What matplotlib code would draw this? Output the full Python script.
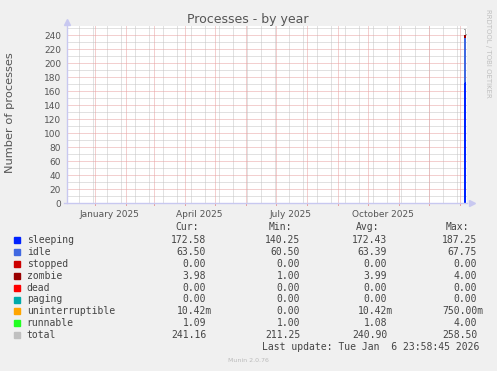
import matplotlib
matplotlib.use('Agg')

import datetime as dt
import numpy as np
import pandas as pd
import matplotlib.pyplot as plt
from matplotlib.transforms import blended_transform_factory

# series shown in the legend
names = ['sleeping', 'idle', 'stopped', 'zombie', 'dead', 'paging',
         'uninterruptible', 'runnable', 'total']
colors = ['#0022ff', '#4169e1', '#cc0000', '#990000', '#ff0000', '#00aaaa',
          '#ffa500', '#22ff22', '#c0c0c0']

# legend statistics
cur_vals = [172.58, 63.50, 0.00, 3.98, 0.00, 0.00, 0.01042, 1.09, 241.16]
min_vals = [140.25, 60.50, 0.00, 1.00, 0.00, 0.00, 0.00, 1.00, 211.25]
avg_vals = [172.43, 63.39, 0.00, 3.99, 0.00, 0.00, 0.01042, 1.08, 240.90]
max_vals = [187.25, 67.75, 0.00, 4.00, 0.00, 0.00, 0.75, 4.00, 258.50]

# daily averages (only the last couple of days have data)
days = ['2026-01-05', '2026-01-06']
sleeping = [172.4, 172.6]
idle = [63.4, 63.5]
stopped = [0.0, 0.0]
zombie = [3.99, 3.98]
dead = [0.0, 0.0]
paging = [0.0, 0.0]
uninterruptible = [0.01, 0.01]
runnable = [1.08, 1.09]
total = [249.0, 241.2]

month_labels = ['January 2025', 'April 2025', 'July 2025', 'October 2025']
month_label_dates = ['2025-01-16', '2025-04-16', '2025-07-16', '2025-10-16']
yticks = list(range(0, 241, 20))

x_start = dt.datetime(2024, 12, 4)
x_end = x_start + dt.timedelta(days=400)

W, H = 497, 371
fig = plt.figure(figsize=(W / 100, H / 100), dpi=100)
fig.patch.set_facecolor('#f0f0f0')

ax = fig.add_axes([66.7 / W, 1 - 203.3 / H, 400 / W, (203.3 - 26) / H])
ax.set_facecolor('white')
for s in ax.spines.values():
    s.set_visible(False)
ax.set_xlim(x_start, x_end)
ax.set_ylim(0, 253.3)

# grid (dotted)
dot = (0, (1, 1))
gray = '#c4c4c4'
red = '#e8a0a0'
gkw = dict(lw=0.72, ls=dot, zorder=1)
for y in range(10, 251, 20):
    ax.axhline(y, color=gray, **gkw)
for d in pd.date_range('2024-12-16', x_end, freq='14D'):
    ax.axvline(d, color=gray, **gkw)
for y in range(20, 251, 20):
    ax.axhline(y, color=red, **gkw)
tr = blended_transform_factory(ax.transData, ax.transAxes)
for d in pd.date_range('2024-12-01', x_end, freq='MS'):
    if d >= pd.Timestamp(x_start):
        ax.axvline(d, color=red, **gkw)
        ax.plot([d, d], [-0.012, 0], transform=tr, color=red, lw=0.72,
                clip_on=False, zorder=1)

# stacked areas
t = pd.to_datetime(days)
edges = list(t) + [t[-1] + pd.Timedelta(days=1)]
stack = [sleeping, idle, stopped, zombie, dead, paging, uninterruptible, runnable]
base = np.zeros(len(edges))
for vals, col in zip(stack, colors[:-1]):
    v = np.append(vals, vals[-1])
    ax.fill_between(edges, base, base + v, step='post', color=col, lw=0, zorder=3)
    base = base + v
ax.step(edges, np.append(total, total[-1]), where='post', color='#a8a8a8',
        lw=0.72, zorder=4)

# axes with arrows
axis_col = '#c8c8f0'
ax.plot([0, 0], [0, 1.0], transform=ax.transAxes, color=axis_col, lw=1,
        clip_on=False, zorder=5)
ax.plot([-0.008, 1.0], [0, 0], transform=ax.transAxes, color=axis_col, lw=1,
        clip_on=False, zorder=5)
ax.plot([0], [1.02], marker='^', ms=4, color=axis_col, transform=ax.transAxes,
        clip_on=False, zorder=5)
ax.plot([1.012], [0], marker='>', ms=4, color=axis_col, transform=ax.transAxes,
        clip_on=False, zorder=5)

ax.set_yticks(yticks)
ax.set_yticklabels([str(v) for v in yticks])
ax.set_xticks([])
ax.tick_params(axis='y', length=0, pad=4, labelsize=6.5, labelcolor='#555555')

for lab, d in zip(month_labels, month_label_dates):
    ax.text(pd.Timestamp(d), -0.065, lab, transform=tr, ha='center', va='center',
            fontsize=6.5, color='#555555')

fig.text(248 / W, 1 - 19 / H, 'Processes - by year', ha='center', va='center',
         fontsize=9, color='#555555')
fig.text(10 / W, 1 - 113 / H, 'Number of processes', rotation=90, ha='center',
         va='center', fontsize=8.2, color='#555555')
fig.text(488 / W, 1 - 53 / H, 'RRDTOOL / TOBI OETIKER', rotation=270,
         ha='center', va='center', fontsize=5, color='#c0c0c0')
fig.text(248 / W, 1 - 361 / H, 'Munin 2.0.76', ha='center', va='center',
         fontsize=4.5, color='#bbbbbb')


def fmt(v):
    if 0 < abs(v) < 1:
        return f'{v * 1000:.2f}m'
    return f'{v:.2f}'


mono = 'DejaVu Sans Mono'
tc = '#444444'
fs = 7
cw = 0.602 * fs * 100 / 72
col_end = [206, 300, 387, 477]
for hdr, xe in zip(['Cur:', 'Min:', 'Avg:', 'Max:'], col_end):
    fig.text((xe - 6 * cw + 4) / W, 1 - 227.5 / H, hdr, family=mono, fontsize=fs,
             color=tc, va='center', ha='left')

for i, (name, col) in enumerate(zip(names, colors)):
    y = 240 + 11.9 * i
    fig.patches.append(plt.Rectangle((14 / W, 1 - (y + 3) / H), 6 / W, 6 / H,
                                     transform=fig.transFigure, color=col))
    fig.text(26.7 / W, 1 - y / H, name, family=mono, fontsize=fs, color=tc,
             va='center', ha='left')
    for vals, xe in zip([cur_vals, min_vals, avg_vals, max_vals], col_end):
        s = fmt(vals[i])
        num = s.rstrip('m')
        fig.text((xe - len(num) * cw) / W, 1 - y / H, s, family=mono, fontsize=fs,
                 color=tc, va='center', ha='left')

fig.text(262.3 / W, 1 - 347.3 / H, 'Last update: Tue Jan  6 23:58:45 2026',
         family=mono, fontsize=fs, color=tc, va='center', ha='left')

fig.savefig('out.png', dpi=100, facecolor=fig.get_facecolor())
